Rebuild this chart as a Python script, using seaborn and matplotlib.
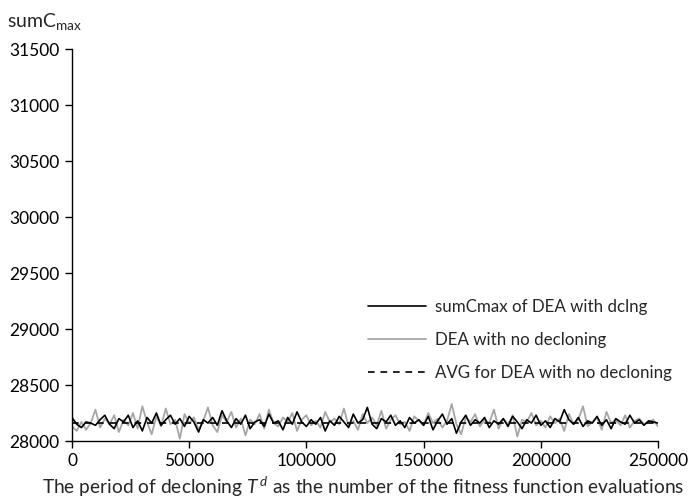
import numpy as np
import pandas as pd
import matplotlib
matplotlib.use("Agg")
import matplotlib.pyplot as plt
import seaborn as sns

# Period of decloning (number of fitness function evaluations)
evals = list(range(0, 250001, 2000))

# sumCmax of DEA with decloning
dea_dclng = [
    28210, 28150, 28120, 28170, 28160, 28140, 28190, 28230, 28150, 28110,
    28200, 28170, 28230, 28120, 28180, 28090, 28210, 28160, 28250, 28140,
    28190, 28230, 28150, 28200, 28130, 28220, 28170, 28080, 28190, 28160,
    28210, 28140, 28270, 28180, 28120, 28200, 28150, 28230, 28110, 28170,
    28190, 28130, 28240, 28160, 28180, 28100, 28210, 28150, 28260, 28170,
    28130, 28190, 28150, 28210, 28090, 28180, 28140, 28220, 28170, 28120,
    28240, 28160, 28190, 28300, 28150, 28110, 28200, 28170, 28230, 28140,
    28180, 28120, 28210, 28160, 28190, 28140, 28220, 28100, 28180, 28240,
    28150, 28200, 28070, 28170, 28230, 28140, 28190, 28160, 28210, 28120,
    28180, 28150, 28200, 28130, 28220, 28170, 28110, 28190, 28160, 28230,
    28140, 28180, 28120, 28200, 28170, 28280, 28190, 28150, 28210, 28130,
    28180, 28160, 28220, 28140, 28190, 28110, 28200, 28170, 28150, 28230,
    28160, 28190, 28140, 28180, 28170, 28160,
]

# sumCmax of DEA without decloning
dea_no_dclng = [
    28130, 28090, 28170, 28100, 28160, 28280, 28120, 28200, 28150, 28230,
    28080, 28190, 28140, 28250, 28110, 28310, 28170, 28060, 28220, 28130,
    28290, 28150, 28190, 28020, 28240, 28160, 28210, 28100, 28180, 28300,
    28140, 28080, 28230, 28170, 28260, 28120, 28200, 28050, 28190, 28150,
    28240, 28110, 28280, 28160, 28130, 28210, 28170, 28250, 28090, 28190,
    28230, 28140, 28180, 28120, 28260, 28170, 28200, 28150, 28290, 28130,
    28180, 28100, 28240, 28160, 28210, 28140, 28270, 28110, 28190, 28230,
    28150, 28170, 28090, 28220, 28180, 28140, 28250, 28160, 28200, 28120,
    28180, 28330, 28150, 28060, 28210, 28170, 28240, 28130, 28190, 28160,
    28280, 28110, 28200, 28150, 28230, 28040, 28190, 28170, 28250, 28140,
    28180, 28120, 28220, 28160, 28200, 28090, 28240, 28150, 28190, 28310,
    28130, 28170, 28210, 28100, 28260, 28160, 28190, 28140, 28230, 28120,
    28180, 28200, 28150, 28170, 28190, 28130,
]

# Average for DEA without decloning
avg_no_dclng = 28165

labels = ["sumCmax of DEA with dclng", "DEA with no decloning",
          "AVG for DEA with no decloning"]
x_ticks = [0, 50000, 100000, 150000, 200000, 250000]
y_ticks = [28000, 28500, 29000, 29500, 30000, 30500, 31000, 31500]

sns.set_theme(style="white")
plt.rcParams["font.family"] = ["Lato", "DejaVu Sans"]
plt.rcParams["mathtext.fontset"] = "custom"
plt.rcParams["mathtext.rm"] = "Lato"
plt.rcParams["mathtext.it"] = "Lato:italic"

df = pd.DataFrame({"evals": evals, "dclng": dea_dclng, "nodclng": dea_no_dclng})
df["avg"] = avg_no_dclng

fig = plt.figure(figsize=(6.89, 5.00), dpi=100)
ax = fig.add_axes([72 / 689, 59 / 500, 586 / 689, 392 / 500])

sns.lineplot(data=df, x="evals", y="nodclng", ax=ax, color="#a6a6a6",
             linewidth=1.3, label=labels[1])
sns.lineplot(data=df, x="evals", y="dclng", ax=ax, color="black",
             linewidth=1.2, label=labels[0])
sns.lineplot(data=df, x="evals", y="avg", ax=ax, color="black",
             linewidth=1.2, linestyle=(0, (4, 3.5)), label=labels[2])

ax.set_xlim(0, 250000)
ax.set_ylim(28000, 31500)
ax.set_xticks(x_ticks)
ax.set_yticks(y_ticks)
ax.set_xticklabels([str(t) for t in x_ticks])
ax.set_yticklabels([str(t) for t in y_ticks])
ax.tick_params(axis="both", labelsize=12.5, colors="black", length=5,
               width=1, direction="out", bottom=True, left=True, pad=4)
for side in ("top", "right"):
    ax.spines[side].set_visible(False)
for side in ("left", "bottom"):
    ax.spines[side].set_color("black")
    ax.spines[side].set_linewidth(1)
ax.set_xlabel("")
ax.set_ylabel("")

fig.text(7 / 689, 1 - 21 / 500, r"sumC$_{\mathregular{max}}$", fontsize=14,
         ha="left", va="center")
fig.text(363 / 689, 1 - 487 / 500,
         r"The period of decloning $\mathit{T}^{\,\mathit{d}}$ as the number of the fitness function evaluations",
         fontsize=13.8, ha="center", va="center")

h, l = ax.get_legend_handles_labels()
order = [l.index(s) for s in labels]
ax.legend([h[i] for i in order], [l[i] for i in order], frameon=False,
          loc="upper left", bbox_to_anchor=(353 / 689, 1 - 284 / 500),
          bbox_transform=fig.transFigure, handlelength=3.4, handletextpad=0.55,
          labelspacing=1.0, fontsize=12.2)

fig.savefig("out.png", dpi=100)
